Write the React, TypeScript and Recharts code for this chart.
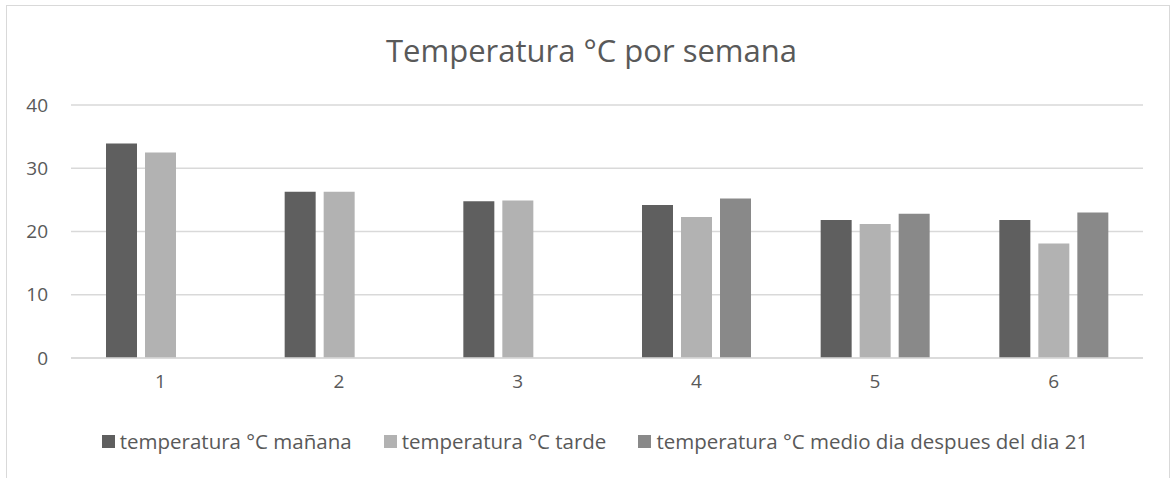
import React from "react";
import { BarChart, Bar, XAxis, YAxis, CartesianGrid } from "recharts";

const categories = ["1", "2", "3", "4", "5", "6"];
const manana = [33.9, 26.3, 24.8, 24.2, 21.8, 21.8];
const tarde = [32.5, 26.3, 24.9, 22.3, 21.2, 18.1];
const medioDia: (number | null)[] = [null, null, null, 25.2, 22.8, 23.0];
const yTicks = [0, 10, 20, 30, 40];

const seriesNames = [
  "temperatura °C mañana",
  "temperatura °C tarde",
  "temperatura °C medio dia despues del dia 21",
];
const seriesKeys = ["manana", "tarde", "medio"];
const seriesColors = ["#5f5f5f", "#b2b2b2", "#898989"];

const data = categories.map((c, i) => ({
  name: c,
  manana: manana[i],
  tarde: tarde[i],
  medio: medioDia[i],
}));

const FONT = "'Open Sans', sans-serif";
const TEXT = "#595959";

export default function App() {
  return (
    <div
      style={{
        position: "absolute",
        left: 0,
        top: 0,
        width: 1172,
        height: 478,
        background: "#fff",
        overflow: "hidden",
        fontFamily: FONT,
      }}
    >
      <div
        style={{
          position: "absolute",
          left: 6,
          top: 5,
          width: 1164,
          height: 480,
          border: "1.5px solid #d9d9d9",
          boxSizing: "border-box",
        }}
      />
      <div
        style={{
          position: "absolute",
          left: 0,
          top: 29,
          width: 1183,
          textAlign: "center",
          fontSize: 31,
          color: TEXT,
          lineHeight: "42px",
        }}
      >
        Temperatura °C por semana
      </div>
      <div style={{ position: "absolute", left: 0, top: 0 }}>
        <BarChart
          width={1172}
          height={478}
          data={data}
          margin={{ top: 105, right: 29, left: 0, bottom: 90 }}
          barSize={31}
          barGap={8}
        >
          <CartesianGrid vertical={false} stroke="#d9d9d9" strokeWidth={1.5} />
          <XAxis
            dataKey="name"
            height={30}
            axisLine={{ stroke: "#d9d9d9", strokeWidth: 1.5 }}
            tickLine={false}
            tickSize={0}
            tickMargin={17}
            tick={{ fill: TEXT, fontSize: 19, fontFamily: FONT }}
          />
          <YAxis
            width={71}
            domain={[0, 40]}
            ticks={yTicks}
            axisLine={false}
            tickLine={false}
            tickSize={0}
            tickMargin={23}
            tick={{ fill: TEXT, fontSize: 19, fontFamily: FONT }}
          />
          {seriesKeys.map((k, i) => (
            <Bar
              key={k}
              dataKey={k}
              name={seriesNames[i]}
              fill={seriesColors[i]}
              isAnimationActive={false}
            />
          ))}
        </BarChart>
      </div>
      <div
        style={{
          position: "absolute",
          left: 0,
          top: 428,
          width: 1190,
          display: "flex",
          justifyContent: "center",
          gap: 32,
          fontSize: 20.5,
          color: TEXT,
          lineHeight: "26px",
        }}
      >
        {seriesNames.map((n, i) => (
          <div key={n} style={{ display: "flex", alignItems: "center" }}>
            <span
              style={{
                display: "inline-block",
                width: 13,
                height: 13,
                background: seriesColors[i],
                marginRight: 5,
              }}
            />
            <span>{n}</span>
          </div>
        ))}
      </div>
    </div>
  );
}
